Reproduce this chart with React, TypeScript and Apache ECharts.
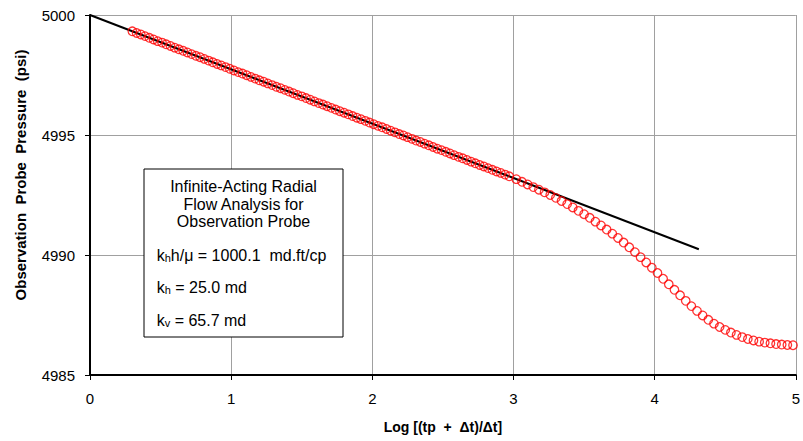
import React, { useEffect, useRef } from 'react';
import * as echarts from 'echarts';

// x = Log[(tp + Δt)/Δt], y = observation probe pressure (psi)
const logHornerTime = [
  0.30, 0.33, 0.36, 0.39, 0.42, 0.45, 0.48, 0.51, 0.54, 0.57,
  0.60, 0.63, 0.66, 0.69, 0.72, 0.75, 0.78, 0.81, 0.84, 0.87,
  0.90, 0.93, 0.96, 0.99, 1.02, 1.05, 1.08, 1.11, 1.14, 1.17,
  1.20, 1.23, 1.26, 1.29, 1.32, 1.35, 1.38, 1.41, 1.44, 1.47,
  1.50, 1.53, 1.56, 1.59, 1.62, 1.65, 1.68, 1.71, 1.74, 1.77,
  1.80, 1.83, 1.86, 1.89, 1.92, 1.95, 1.98, 2.01, 2.04, 2.07,
  2.10, 2.13, 2.16, 2.19, 2.22, 2.25, 2.28, 2.31, 2.34, 2.37,
  2.40, 2.43, 2.46, 2.49, 2.52, 2.55, 2.58, 2.61, 2.64, 2.67,
  2.70, 2.73, 2.76, 2.79, 2.82, 2.85, 2.88, 2.91, 2.94, 2.97,
  3.02, 3.06, 3.10, 3.14, 3.18, 3.22, 3.26, 3.30, 3.34, 3.38,
  3.42, 3.46, 3.50, 3.54, 3.58, 3.62, 3.66, 3.70, 3.74, 3.78,
  3.82, 3.86, 3.90, 3.94, 3.98, 4.02, 4.06, 4.10, 4.14, 4.18,
  4.22, 4.26, 4.30, 4.34, 4.38, 4.42, 4.46, 4.50, 4.54, 4.58,
  4.62, 4.66, 4.70, 4.74, 4.78, 4.82, 4.86, 4.90, 4.94, 4.98,
];

const probePressure = [
  4999.32, 4999.25, 4999.19, 4999.12, 4999.05, 4998.98, 4998.91, 4998.85, 4998.78, 4998.71,
  4998.64, 4998.57, 4998.51, 4998.44, 4998.37, 4998.30, 4998.24, 4998.17, 4998.10, 4998.03,
  4997.96, 4997.90, 4997.83, 4997.76, 4997.69, 4997.62, 4997.56, 4997.49, 4997.42, 4997.35,
  4997.28, 4997.22, 4997.15, 4997.08, 4997.01, 4996.95, 4996.88, 4996.81, 4996.74, 4996.67,
  4996.61, 4996.54, 4996.47, 4996.40, 4996.33, 4996.27, 4996.20, 4996.13, 4996.06, 4995.99,
  4995.93, 4995.86, 4995.79, 4995.72, 4995.66, 4995.59, 4995.52, 4995.45, 4995.38, 4995.32,
  4995.25, 4995.18, 4995.11, 4995.04, 4994.98, 4994.91, 4994.84, 4994.77, 4994.71, 4994.64,
  4994.57, 4994.50, 4994.43, 4994.37, 4994.30, 4994.23, 4994.16, 4994.09, 4994.03, 4993.96,
  4993.89, 4993.82, 4993.75, 4993.69, 4993.62, 4993.55, 4993.48, 4993.42, 4993.35, 4993.28,
  4993.16, 4993.05, 4992.94, 4992.83, 4992.72, 4992.61, 4992.50, 4992.38, 4992.25, 4992.12,
  4991.98, 4991.84, 4991.70, 4991.55, 4991.39, 4991.23, 4991.06, 4990.89, 4990.71, 4990.52,
  4990.32, 4990.12, 4989.91, 4989.69, 4989.47, 4989.25, 4989.01, 4988.78, 4988.55, 4988.32,
  4988.09, 4987.87, 4987.67, 4987.48, 4987.30, 4987.14, 4987.00, 4986.88, 4986.77, 4986.67,
  4986.58, 4986.50, 4986.44, 4986.39, 4986.35, 4986.32, 4986.29, 4986.27, 4986.25, 4986.24,
];

// semilog straight line (infinite-acting radial flow fit)
const fitLineX = [0, 4.313];
const fitLineY = [5000, 4990.24];

const boxTitleLines = ['Infinite-Acting Radial', 'Flow Analysis for', 'Observation Probe'];
const boxResultLines = [
  '{m|k}{s|h}{m|h/μ = 1000.1  md.ft/cp}',
  '{m|k}{s|h}{m| = 25.0 md}',
  '{m|k}{s|v}{m| = 65.7 md}',
];

const FONT = 'Liberation Sans, Arial, Helvetica, sans-serif';

export default function App() {
  const ref = useRef<HTMLDivElement>(null);

  useEffect(() => {
    if (!ref.current) return;
    const chart = echarts.init(ref.current, null, { renderer: 'svg' });

    const richStyles = {
      m: { fontSize: 16, fontFamily: FONT, fill: '#000', lineHeight: 18, verticalAlign: 'bottom' },
      s: { fontSize: 11, fontFamily: FONT, fill: '#000', lineHeight: 10, verticalAlign: 'bottom' },
    };
    const resultY = [254.3, 286, 319.3];

    chart.setOption({
      animation: false,
      grid: { left: 90, top: 15, width: 710, height: 360, containLabel: false },
      xAxis: {
        type: 'value',
        min: 0,
        max: 5,
        interval: 1,
        name: 'Log [(tp  +  Δt)/Δt]',
        nameLocation: 'middle',
        nameGap: 45,
        nameTextStyle: { fontFamily: FONT, fontSize: 14, fontWeight: 'bold', color: '#000' },
        axisLine: { onZero: false, lineStyle: { color: '#000', width: 2 } },
        axisTick: { show: true, length: 5, lineStyle: { color: '#000', width: 1 } },
        axisLabel: { fontFamily: FONT, fontSize: 15, color: '#000', margin: 16 },
        splitLine: { show: true, lineStyle: { color: '#a0a0a0', width: 1 } },
      },
      yAxis: {
        type: 'value',
        min: 4985,
        max: 5000,
        interval: 5,
        name: 'Observation  Probe  Pressure  (psi)',
        nameLocation: 'middle',
        nameGap: 62,
        nameTextStyle: {
          fontFamily: FONT,
          fontSize: 15,
          fontWeight: 'bold',
          color: '#000',
          padding: [0, 0, 0, 40],
        },
        axisLine: { onZero: false, lineStyle: { color: '#000', width: 2 } },
        axisTick: { show: true, length: 5, lineStyle: { color: '#000', width: 1 } },
        axisLabel: {
          fontFamily: FONT,
          fontSize: 15,
          color: '#000',
          margin: 15,
          formatter: (v: number) => String(v),
        },
        splitLine: { show: true, lineStyle: { color: '#a0a0a0', width: 1 } },
      },
      series: [
        {
          type: 'line',
          data: fitLineX.map((x, i) => [x, fitLineY[i]]),
          symbol: 'none',
          lineStyle: { color: '#000', width: 2 },
          silent: true,
          z: 2,
        },
        {
          type: 'scatter',
          data: logHornerTime.map((x, i) => [x, probePressure[i]]),
          symbol: 'circle',
          symbolSize: 8.5,
          itemStyle: { color: 'rgba(0,0,0,0)', borderColor: '#ff0000', borderWidth: 1.3 },
          emphasis: { disabled: true },
          silent: true,
          z: 3,
        },
      ],
      graphic: [
        {
          type: 'rect',
          shape: { x: 144, y: 169, width: 199, height: 168 },
          style: { fill: '#fff', stroke: '#000', lineWidth: 1 },
          z: 10,
        },
        {
          type: 'text',
          x: 243.5,
          y: 204.2,
          z: 11,
          style: {
            text: boxTitleLines.join('\n'),
            fontSize: 16,
            fontFamily: FONT,
            fill: '#000',
            lineHeight: 17.5,
            align: 'center',
            verticalAlign: 'middle',
          },
        },
        ...boxResultLines.map((t, i) => ({
          type: 'text',
          x: 156.7,
          y: resultY[i],
          z: 11,
          style: {
            text: t,
            rich: richStyles,
            fontSize: 16,
            fontFamily: FONT,
            fill: '#000',
            align: 'left',
            verticalAlign: 'middle',
          },
        })),
      ],
    });

    return () => chart.dispose();
  }, []);

  return (
    <div
      ref={ref}
      style={{ position: 'absolute', left: 0, top: 0, width: 803, height: 441 }}
    />
  );
}
